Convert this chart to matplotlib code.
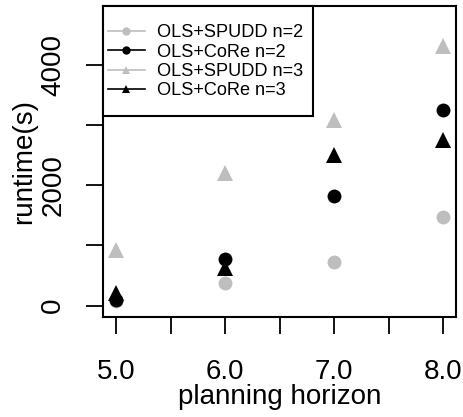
import matplotlib
matplotlib.use("Agg")
import matplotlib.pyplot as plt
from matplotlib.patches import Rectangle

plt.rcParams['font.family'] = ['Liberation Sans', 'DejaVu Sans']

horizon = [5, 6, 7, 8]
spudd_n2 = [80, 370, 730, 1470]
core_n2 = [100, 780, 1820, 3250]
spudd_n3 = [920, 2200, 3080, 4320]
core_n3 = [210, 620, 2500, 2750]

grey = '#BEBEBE'
series = [
    ("OLS+SPUDD n=2", spudd_n2, grey, 'o'),
    ("OLS+CoRe n=2", core_n2, 'black', 'o'),
    ("OLS+SPUDD n=3", spudd_n3, grey, '^'),
    ("OLS+CoRe n=3", core_n3, 'black', '^'),
]

fig = plt.figure(figsize=(4.64, 4.17), dpi=100)
ax = fig.add_axes([0.222, 0.2405, 0.761, 0.745])

for label, vals, col, mk in series:
    ax.plot(horizon, vals, linestyle='none', marker=mk, color=col,
            markersize=10 if mk == 'o' else 11, markeredgewidth=0)
    # legend handle with a short line through the marker
    ax.plot([], [], linestyle='-', marker=mk, color=col, markersize=6,
            markeredgewidth=0, lw=1.2, label=label)

ax.set_xlim(4.88, 8.12)
ax.set_ylim(-185, 4983)

ax.set_xticks([5, 5.5, 6, 6.5, 7, 7.5, 8])
ax.set_xticklabels(["5.0", "", "6.0", "", "7.0", "", "8.0"], fontsize=20)
ax.set_yticks([0, 1000, 2000, 3000, 4000])
ax.set_yticklabels(["0", "", "2000", "", "4000"], fontsize=20,
                   rotation=90, va='center')

ax.tick_params(axis='both', length=12.5, width=1.3, direction='out')
ax.tick_params(axis='x', pad=18)
ax.tick_params(axis='y', pad=14)
for sp in ax.spines.values():
    sp.set_linewidth(1.5)

ax.set_xlabel("planning horizon", fontsize=20, labelpad=-1)
ax.set_ylabel("runtime(s)", fontsize=20, labelpad=2)

# legend box drawn separately so its padding can differ per side
ax.add_patch(Rectangle((0, 0.646), 0.595, 0.354, transform=ax.transAxes,
                       facecolor='white', edgecolor='black', lw=1.5,
                       zorder=4, clip_on=False))
leg = ax.legend(loc='upper left', bbox_to_anchor=(-0.037, 1), borderaxespad=0,
                frameon=False, fontsize=13.1, handlelength=2.0,
                handletextpad=0.7, labelspacing=0.13, borderpad=1.0)
leg.set_zorder(5)

fig.savefig("out.png", dpi=100)
